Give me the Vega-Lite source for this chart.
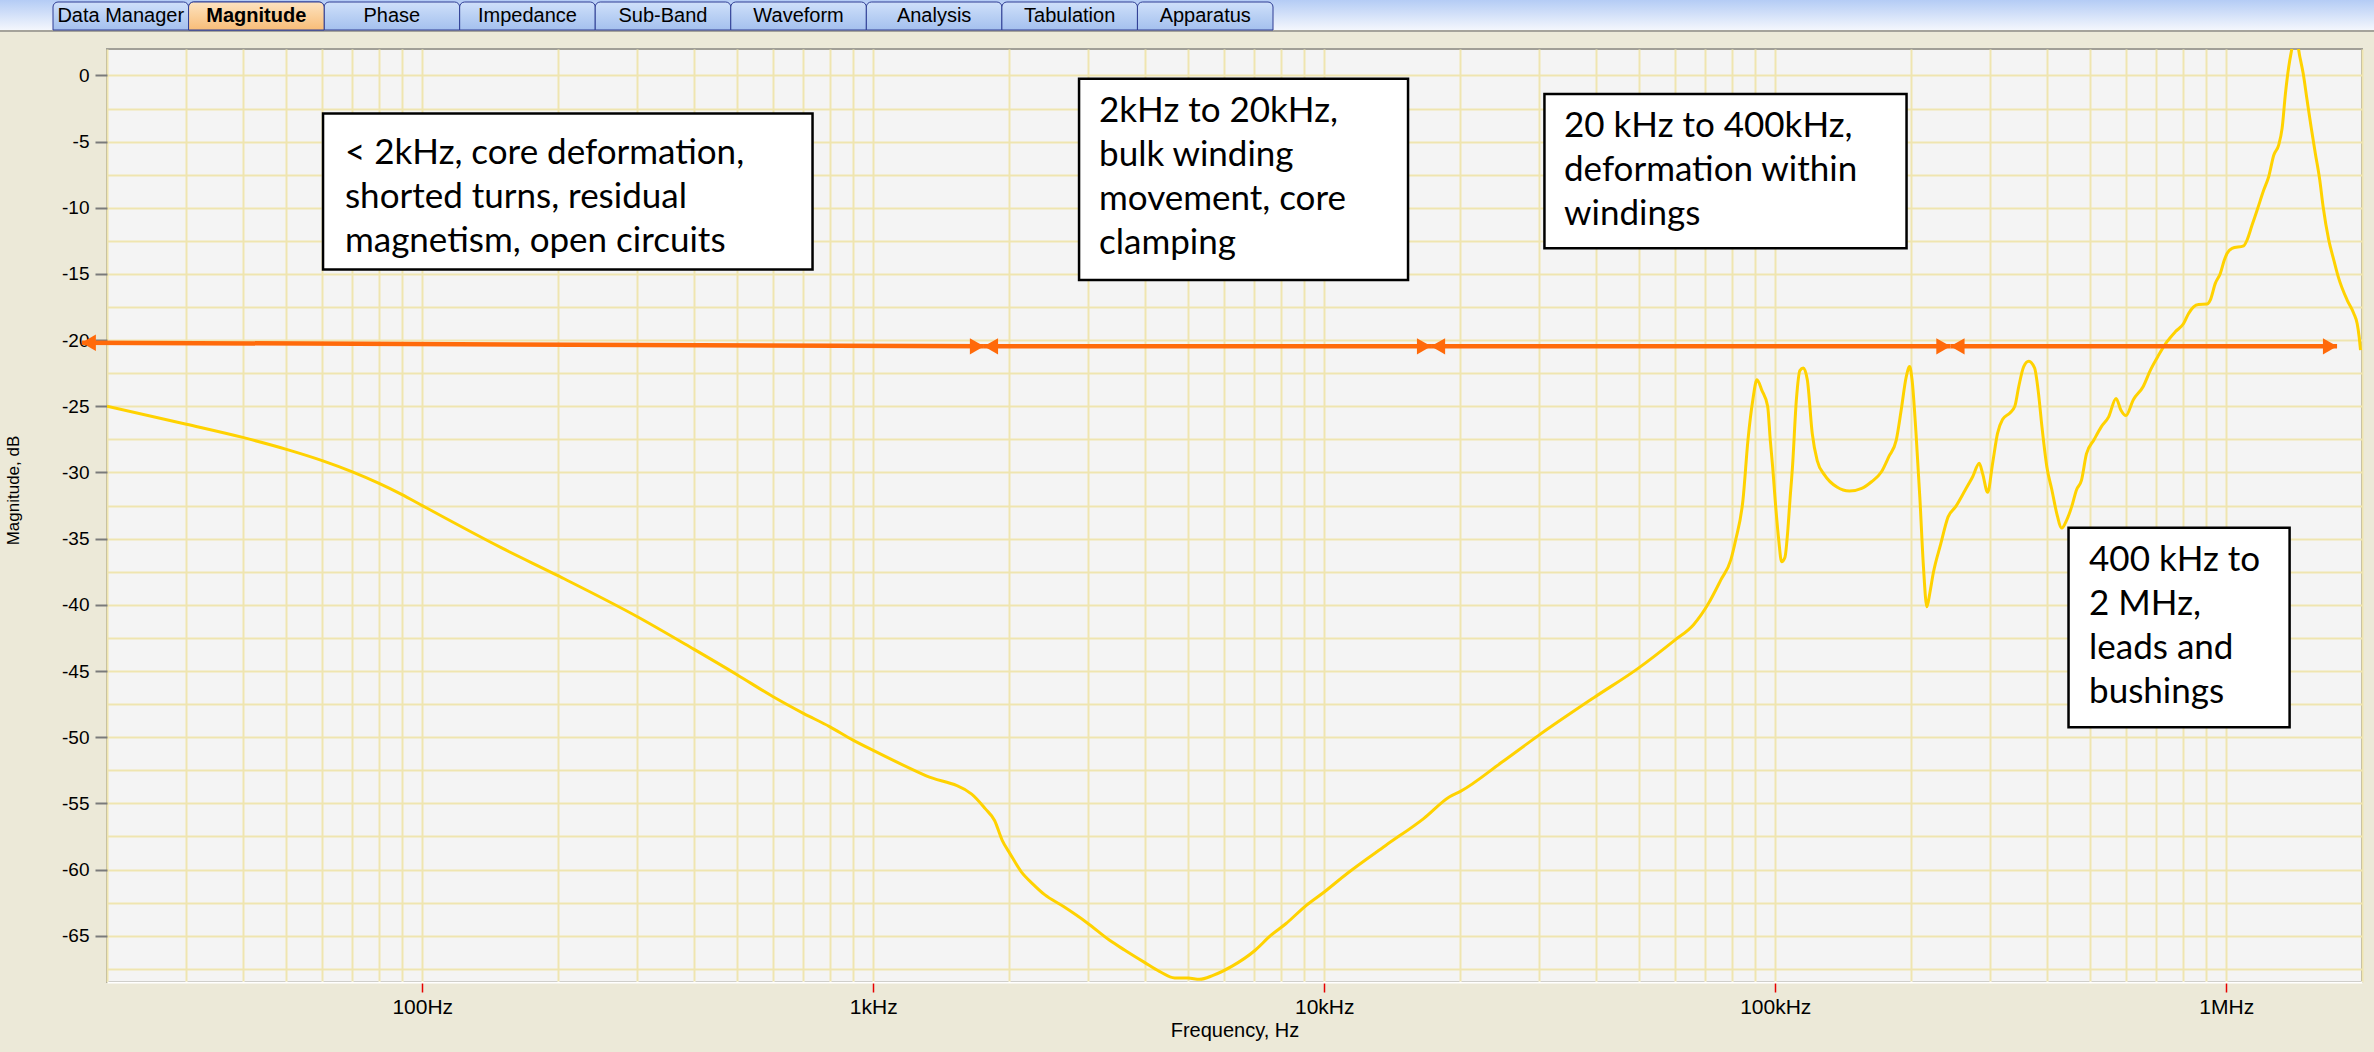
{
  "$schema": "https://vega.github.io/schema/vega-lite/v6.json",
  "width": 2255,
  "height": 933,
  "autosize": {"type": "none"},
  "padding": {"left": 107, "top": 49, "right": 12, "bottom": 70},
  "background": "#ece9d8",
  "config": {
    "view": {"fill": "#f4f4f4", "stroke": "#a19f97", "strokeWidth": 2}
  },
  "datasets": {
    "curve": [
      {"f": 20, "m": -25.0}, {"f": 30, "m": -26.35}, {"f": 40, "m": -27.35}, {"f": 50, "m": -28.25},
      {"f": 60, "m": -29.1}, {"f": 70, "m": -29.95}, {"f": 80, "m": -30.8}, {"f": 90, "m": -31.65},
      {"f": 100, "m": -32.5}, {"f": 150, "m": -35.7}, {"f": 200, "m": -37.8}, {"f": 300, "m": -40.9},
      {"f": 400, "m": -43.35}, {"f": 500, "m": -45.3}, {"f": 600, "m": -46.95}, {"f": 700, "m": -48.2},
      {"f": 800, "m": -49.2}, {"f": 900, "m": -50.2}, {"f": 1000, "m": -51.0}, {"f": 1307, "m": -52.9},
      {"f": 1653, "m": -54.3}, {"f": 1771, "m": -55.4}, {"f": 1858, "m": -56.3}, {"f": 1932, "m": -57.8},
      {"f": 2010, "m": -58.8}, {"f": 2132, "m": -60.2}, {"f": 2260, "m": -61.1}, {"f": 2399, "m": -61.9},
      {"f": 2643, "m": -62.8}, {"f": 2973, "m": -64.0}, {"f": 3343, "m": -65.35}, {"f": 3614, "m": -66.1},
      {"f": 3986, "m": -67.0}, {"f": 4311, "m": -67.7}, {"f": 4662, "m": -68.2}, {"f": 4989, "m": -68.2},
      {"f": 5292, "m": -68.3}, {"f": 5669, "m": -68.0}, {"f": 6249, "m": -67.3}, {"f": 7029, "m": -66.1},
      {"f": 7600, "m": -65.0}, {"f": 8219, "m": -64.1}, {"f": 9060, "m": -62.8}, {"f": 10000, "m": -61.7},
      {"f": 11240, "m": -60.3}, {"f": 13660, "m": -58.2}, {"f": 16610, "m": -56.15}, {"f": 18970, "m": -54.5},
      {"f": 20040, "m": -54.1}, {"f": 24750, "m": -51.9}, {"f": 29780, "m": -49.9}, {"f": 39670, "m": -47.0},
      {"f": 49650, "m": -44.8}, {"f": 59700, "m": -42.7}, {"f": 65900, "m": -41.5}, {"f": 71100, "m": -39.9},
      {"f": 75800, "m": -38.1}, {"f": 79700, "m": -36.6}, {"f": 81700, "m": -35.1}, {"f": 84800, "m": -32.1},
      {"f": 87000, "m": -27.55}, {"f": 89200, "m": -24.5}, {"f": 91100, "m": -23.0}, {"f": 93400, "m": -23.8},
      {"f": 96200, "m": -25.0}, {"f": 97500, "m": -27.55}, {"f": 98700, "m": -29.6}, {"f": 99980, "m": -32.1},
      {"f": 101800, "m": -35.1}, {"f": 103300, "m": -36.75}, {"f": 105100, "m": -36.4}, {"f": 106500, "m": -34.6},
      {"f": 107800, "m": -32.1}, {"f": 109200, "m": -29.6}, {"f": 111400, "m": -24.5}, {"f": 113400, "m": -22.3},
      {"f": 115400, "m": -22.1}, {"f": 117800, "m": -23.0}, {"f": 120800, "m": -27.05}, {"f": 123900, "m": -29.1},
      {"f": 128700, "m": -30.2}, {"f": 137000, "m": -31.1}, {"f": 146000, "m": -31.4}, {"f": 155500, "m": -31.2},
      {"f": 163500, "m": -30.7}, {"f": 172000, "m": -29.95}, {"f": 178600, "m": -28.8}, {"f": 185500, "m": -27.55},
      {"f": 190200, "m": -25.3}, {"f": 195100, "m": -22.8}, {"f": 198600, "m": -22.0}, {"f": 201100, "m": -23.0},
      {"f": 205200, "m": -27.05}, {"f": 209400, "m": -32.1}, {"f": 213100, "m": -37.1}, {"f": 216900, "m": -40.15},
      {"f": 220200, "m": -39.1}, {"f": 224100, "m": -37.6}, {"f": 232800, "m": -35.4}, {"f": 241700, "m": -33.35},
      {"f": 251000, "m": -32.6}, {"f": 264000, "m": -31.3}, {"f": 274200, "m": -30.3}, {"f": 283400, "m": -29.3},
      {"f": 288400, "m": -30.1}, {"f": 295800, "m": -31.5}, {"f": 303400, "m": -29.3}, {"f": 311100, "m": -27.05},
      {"f": 319100, "m": -26.0}, {"f": 331400, "m": -25.5}, {"f": 339800, "m": -25.0}, {"f": 346700, "m": -23.5},
      {"f": 355600, "m": -22.0}, {"f": 364700, "m": -21.6}, {"f": 375800, "m": -22.1}, {"f": 383400, "m": -24.0},
      {"f": 390300, "m": -26.55}, {"f": 400300, "m": -29.6}, {"f": 410500, "m": -31.3}, {"f": 421000, "m": -33.1},
      {"f": 431700, "m": -34.2}, {"f": 442800, "m": -33.6}, {"f": 454100, "m": -32.6}, {"f": 465700, "m": -31.3},
      {"f": 477500, "m": -30.6}, {"f": 489800, "m": -28.6}, {"f": 508700, "m": -27.55}, {"f": 528300, "m": -26.55},
      {"f": 548600, "m": -25.8}, {"f": 569700, "m": -24.4}, {"f": 584300, "m": -25.3}, {"f": 599200, "m": -25.7},
      {"f": 622300, "m": -24.5}, {"f": 654500, "m": -23.5}, {"f": 679000, "m": -22.26}, {"f": 708200, "m": -21.13},
      {"f": 739000, "m": -20.12}, {"f": 770900, "m": -19.37}, {"f": 804400, "m": -18.74}, {"f": 825200, "m": -17.98},
      {"f": 846500, "m": -17.48}, {"f": 868400, "m": -17.3}, {"f": 906200, "m": -17.27}, {"f": 921800, "m": -16.97},
      {"f": 945700, "m": -15.71}, {"f": 970200, "m": -14.96}, {"f": 990300, "m": -13.95}, {"f": 1004000, "m": -13.45},
      {"f": 1030000, "m": -13.07}, {"f": 1093000, "m": -12.87}, {"f": 1112000, "m": -12.44}, {"f": 1141000, "m": -11.3},
      {"f": 1171000, "m": -10.17}, {"f": 1211000, "m": -8.66}, {"f": 1242000, "m": -7.65}, {"f": 1275000, "m": -6.01},
      {"f": 1307000, "m": -5.26}, {"f": 1330000, "m": -4.0}, {"f": 1353000, "m": -1.35}, {"f": 1376000, "m": 0.66},
      {"f": 1392000, "m": 1.67}, {"f": 1407000, "m": 2.4}, {"f": 1436000, "m": 2.4}, {"f": 1456000, "m": 1.42},
      {"f": 1481000, "m": 0.16}, {"f": 1511000, "m": -1.86}, {"f": 1542000, "m": -3.87}, {"f": 1576000, "m": -5.89},
      {"f": 1612000, "m": -7.9}, {"f": 1640000, "m": -9.92}, {"f": 1688000, "m": -12.44}, {"f": 1732000, "m": -13.95},
      {"f": 1776000, "m": -15.33}, {"f": 1854000, "m": -16.97}, {"f": 1918000, "m": -17.98}, {"f": 1951000, "m": -18.74},
      {"f": 1971000, "m": -19.74}, {"f": 1985000, "m": -20.75}
    ],
    "arrows": [
      {"a": 17.58, "b": 1760, "ya": -20.19, "yb": -20.47},
      {"a": 1760, "b": 17250, "ya": -20.47, "yb": -20.47},
      {"a": 17250, "b": 244600, "ya": -20.47, "yb": -20.47},
      {"a": 244600, "b": 1760800, "ya": -20.47, "yb": -20.47}
    ],
    "boxes": [
      {"x1": 60.26, "x2": 733.5, "y1": -2.87, "y2": -14.66, "tx": 67.4, "ty": -5.86, "label": "< 2kHz, core deformation,\nshorted turns, residual\nmagnetism, open circuits"},
      {"x1": 2860, "x2": 15340, "y1": -0.24, "y2": -15.46, "tx": 3167, "ty": -2.65, "label": "2kHz to 20kHz,\nbulk winding\nmovement, core\nclamping"},
      {"x1": 30780, "x2": 195500, "y1": -1.4, "y2": -13.06, "tx": 34010, "ty": -3.8, "label": "20 kHz to 400kHz,\ndeformation within\nwindings"},
      {"x1": 447000, "x2": 1382000, "y1": -34.17, "y2": -49.25, "tx": 496400, "ty": -36.61, "label": "400 kHz to\n2 MHz,\nleads and\nbushings"}
    ],
    "tabs": [
      {"tab": "Data Manager", "sel": false},
      {"tab": "Magnitude", "sel": true},
      {"tab": "Phase", "sel": false},
      {"tab": "Impedance", "sel": false},
      {"tab": "Sub-Band", "sel": false},
      {"tab": "Waveform", "sel": false},
      {"tab": "Analysis", "sel": false},
      {"tab": "Tabulation", "sel": false},
      {"tab": "Apparatus", "sel": false}
    ],
    "strip": [{"k": 1}]
  },
  "resolve": {
    "scale": {"x": "independent", "y": "independent"},
    "axis": {"x": "independent", "y": "independent"}
  },
  "layer": [
    {
      "resolve": {"scale": {"y": "shared", "x": "shared"}, "axis": {"y": "independent"}},
      "layer": [
        {
          "data": {"name": "curve"},
          "mark": {"type": "line", "color": "#ffd200", "strokeWidth": 3, "clip": true, "interpolate": "monotone"},
          "encoding": {
            "x": {
              "field": "f", "type": "quantitative",
              "scale": {"type": "log", "domain": [20, 2000000], "nice": false},
              "axis": {
                "title": "Frequency, Hz",
                "values": [20, 30, 40, 50, 60, 70, 80, 90, 100, 200, 300, 400, 500, 600, 700, 800, 900, 1000, 2000, 3000, 4000, 5000, 6000, 7000, 8000, 9000, 10000, 20000, 30000, 40000, 50000, 60000, 70000, 80000, 90000, 100000, 200000, 300000, 400000, 500000, 600000, 700000, 800000, 900000, 1000000, 2000000],
                "grid": true, "gridColor": "#efe5b0", "gridWidth": 2,
                "domain": true, "domainColor": "#ffffff", "domainWidth": 2,
                "ticks": true, "tickColor": "#e60000", "tickSize": 10, "tickWidth": 1.5,
                "tickOpacity": {"condition": {"test": "indexof([100, 1000, 10000, 100000, 1000000], datum.value) >= 0", "value": 1}, "value": 0},
                "labelExpr": "datum.value == 100 ? '100Hz' : datum.value == 1000 ? '1kHz' : datum.value == 10000 ? '10kHz' : datum.value == 100000 ? '100kHz' : datum.value == 1000000 ? '1MHz' : ''",
                "labelOverlap": false, "labelFlush": false, "labelBound": false,
                "labelFont": "Liberation Sans", "labelFontSize": 21, "labelColor": "#000000", "labelPadding": 4,
                "titleFont": "Liberation Sans", "titleFontSize": 20, "titleFontWeight": "normal", "titleColor": "#000000",
                "titleY": 38, "titleBaseline": "top"
              }
            },
            "y": {
              "field": "m", "type": "quantitative",
              "scale": {"domain": [-68.5, 2], "nice": false, "zero": false},
              "axis": {
                "orient": "left",
                "title": "Magnitude, dB",
                "values": [-65, -60, -55, -50, -45, -40, -35, -30, -25, -20, -15, -10, -5, 0],
                "grid": false,
                "domain": false,
                "ticks": true, "tickColor": "#7a7a7a", "tickSize": 12, "tickWidth": 2,
                "labelExpr": "'' + datum.value",
                "labelOverlap": false,
                "labelFont": "Liberation Sans", "labelFontSize": 19, "labelColor": "#000000", "labelPadding": 6,
                "titleFont": "Liberation Sans", "titleFontSize": 17, "titleFontWeight": "normal", "titleColor": "#000000",
                "titleX": -94, "titleY": 441, "titleAngle": -90, "titleAlign": "center", "titleBaseline": "middle"
              }
            }
          }
        },
        {
          "data": {"name": "arrows"},
          "mark": {"type": "rule", "color": "#ff6a0a", "strokeWidth": 4.5, "clip": false},
          "encoding": {
            "x": {"field": "a", "type": "quantitative"},
            "x2": {"field": "b"},
            "y": {
              "field": "ya", "type": "quantitative",
              "axis": {
                "orient": "left", "title": null,
                "values": [-67.5, -65, -62.5, -60, -57.5, -55, -52.5, -50, -47.5, -45, -42.5, -40, -37.5, -35, -32.5, -30, -27.5, -25, -22.5, -20, -17.5, -15, -12.5, -10, -7.5, -5, -2.5, 0],
                "grid": true, "gridColor": "#efe5b0", "gridWidth": 2,
                "domain": false, "ticks": false, "labels": false
              }
            },
            "y2": {"field": "yb"}
          }
        },
        {
          "data": {"name": "arrows"},
          "mark": {"type": "point", "shape": "triangle-left", "filled": true, "color": "#ff6a0a", "opacity": 1, "size": 270, "xOffset": 7, "clip": false},
          "encoding": {
            "x": {"field": "a", "type": "quantitative"},
            "y": {"field": "ya", "type": "quantitative", "axis": null}
          }
        },
        {
          "data": {"name": "arrows"},
          "mark": {"type": "point", "shape": "triangle-right", "filled": true, "color": "#ff6a0a", "opacity": 1, "size": 270, "xOffset": -7, "clip": false},
          "encoding": {
            "x": {"field": "b", "type": "quantitative"},
            "y": {"field": "yb", "type": "quantitative", "axis": null}
          }
        },
        {
          "data": {"name": "boxes"},
          "mark": {"type": "rect", "fill": "#ffffff", "stroke": "#000000", "strokeWidth": 2.5},
          "encoding": {
            "x": {"field": "x1", "type": "quantitative"},
            "x2": {"field": "x2"},
            "y": {"field": "y1", "type": "quantitative", "axis": null},
            "y2": {"field": "y2"}
          }
        },
        {
          "data": {"name": "boxes"},
          "mark": {"type": "text", "font": "Lato", "fontSize": 35, "lineHeight": 44, "lineBreak": "\n", "align": "left", "baseline": "middle", "color": "#000000"},
          "encoding": {
            "x": {"field": "tx", "type": "quantitative"},
            "y": {"field": "ty", "type": "quantitative", "axis": null},
            "text": {"field": "label"}
          }
        }
      ]
    },
    {
      "data": {"name": "strip"},
      "layer": [
        {
          "mark": {"type": "rect", "fill": {"gradient": "linear", "x1": 0, "y1": 0, "x2": 0, "y2": 1, "stops": [{"offset": 0, "color": "#b4ccf5"}, {"offset": 1, "color": "#f6f8fd"}]}},
          "encoding": {
            "x": {"datum": 0, "type": "quantitative", "scale": {"domain": [0, 1], "range": [-107, 2267]}, "axis": null},
            "x2": {"datum": 1},
            "y": {"datum": 0, "type": "quantitative", "scale": {"domain": [0, 1], "range": [-18, -49]}, "axis": null},
            "y2": {"datum": 1}
          }
        },
        {
          "mark": {"type": "rule", "color": "#a5a39b", "strokeWidth": 2},
          "encoding": {
            "x": {"datum": 0, "type": "quantitative"},
            "x2": {"datum": 1},
            "y": {"datum": 0, "type": "quantitative"}
          }
        }
      ]
    },
    {
      "data": {"name": "tabs"},
      "encoding": {
        "x": {"field": "tab", "type": "nominal", "sort": null, "scale": {"range": [-54, 1166], "paddingInner": 0, "paddingOuter": 0}, "axis": null}
      },
      "layer": [
        {
          "mark": {"type": "bar", "fill": {"gradient": "linear", "x1": 0, "y1": 0, "x2": 0, "y2": 1, "stops": [{"offset": 0, "color": "#cfe0fa"}, {"offset": 1, "color": "#a4c0ee"}]}, "stroke": "#2e3d94", "strokeWidth": 1, "cornerRadiusTopLeft": 5, "cornerRadiusTopRight": 5},
          "encoding": {
            "y": {"datum": 0, "type": "quantitative", "scale": {"domain": [0, 1], "range": [-19, -47]}, "axis": null},
            "y2": {"datum": 1}
          }
        },
        {
          "transform": [{"filter": "datum.sel"}],
          "mark": {"type": "bar", "fill": {"gradient": "linear", "x1": 0, "y1": 0, "x2": 0, "y2": 1, "stops": [{"offset": 0, "color": "#fde3c0"}, {"offset": 1, "color": "#f8bd78"}]}, "stroke": "#2e3d94", "strokeWidth": 1, "cornerRadiusTopLeft": 5, "cornerRadiusTopRight": 5},
          "encoding": {
            "y": {"datum": 0, "type": "quantitative"},
            "y2": {"datum": 1}
          }
        },
        {
          "transform": [{"filter": "!datum.sel"}],
          "mark": {"type": "text", "font": "Liberation Sans", "fontSize": 20, "baseline": "middle", "align": "center", "color": "#000000"},
          "encoding": {
            "y": {"datum": 0.5, "type": "quantitative"},
            "text": {"field": "tab"}
          }
        },
        {
          "transform": [{"filter": "datum.sel"}],
          "mark": {"type": "text", "font": "Liberation Sans", "fontSize": 20, "fontWeight": "bold", "baseline": "middle", "align": "center", "color": "#000000"},
          "encoding": {
            "y": {"datum": 0.5, "type": "quantitative"},
            "text": {"field": "tab"}
          }
        }
      ]
    }
  ]
}
